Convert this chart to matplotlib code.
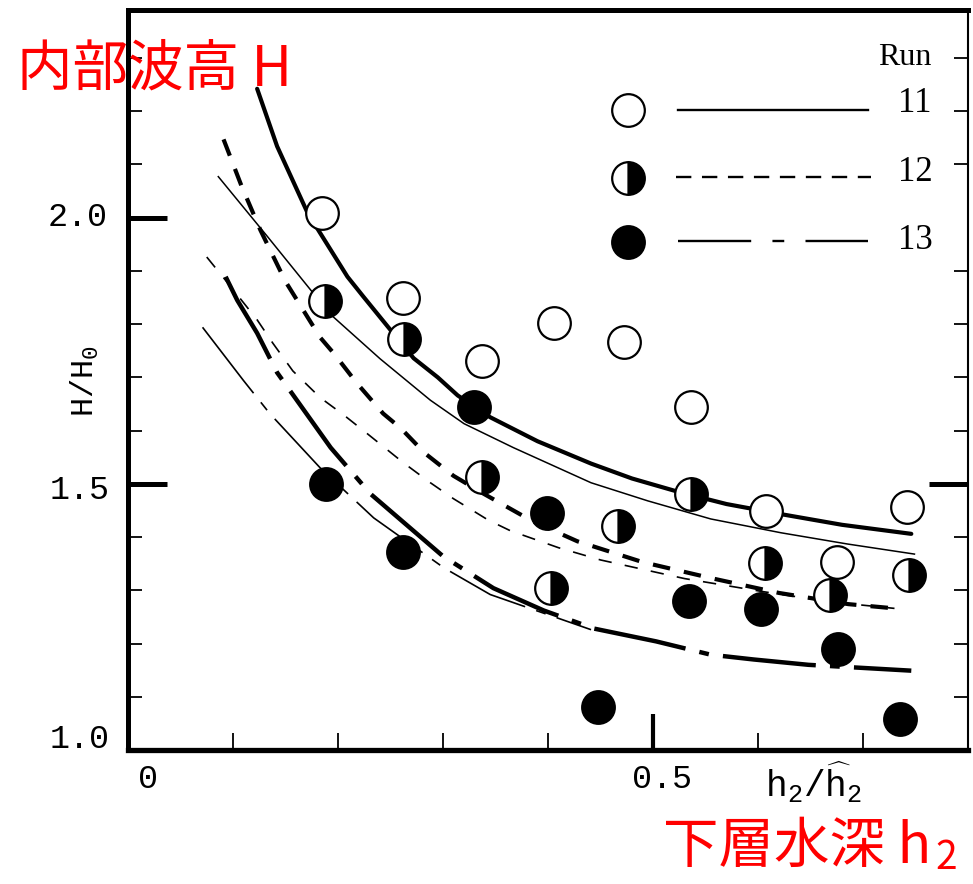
import matplotlib
matplotlib.use("Agg")
import matplotlib.pyplot as plt
from matplotlib.ticker import MultipleLocator

plt.rcParams['mathtext.fontset'] = 'custom'
plt.rcParams['mathtext.rm'] = 'Liberation Mono'
plt.rcParams['mathtext.it'] = 'Liberation Mono'

# 測定値 (h2/h2^, H/H0)
run11_x = [0.185, 0.262, 0.337, 0.406, 0.472, 0.536, 0.608, 0.675, 0.742]
run11_y = [2.009, 1.849, 1.730, 1.802, 1.766, 1.645, 1.449, 1.353, 1.457]
run12_x = [0.188, 0.263, 0.337, 0.403, 0.467, 0.536, 0.607, 0.669, 0.744]
run12_y = [1.843, 1.772, 1.513, 1.304, 1.421, 1.481, 1.351, 1.292, 1.328]
run13_x = [0.189, 0.262, 0.330, 0.399, 0.448, 0.534, 0.603, 0.676, 0.735]
run13_y = [1.500, 1.372, 1.645, 1.445, 1.081, 1.279, 1.264, 1.189, 1.058]

# 計算曲線
curve11a_x = [0.123, 0.142, 0.171, 0.209, 0.224, 0.250, 0.272, 0.295, 0.314, 0.345, 0.39, 0.441,
              0.48, 0.524, 0.57, 0.622, 0.68, 0.746]
curve11a_y = [2.242, 2.134, 2.009, 1.889, 1.852, 1.789, 1.736, 1.700, 1.666, 1.625, 1.58, 1.538,
              1.51, 1.485, 1.462, 1.443, 1.423, 1.406]
curve11b_x = [0.086, 0.133, 0.174, 0.193, 0.240, 0.288, 0.320, 0.367, 0.441, 0.495, 0.555, 0.622,
              0.685, 0.749]
curve11b_y = [2.077, 1.964, 1.864, 1.818, 1.735, 1.657, 1.613, 1.568, 1.502, 1.468, 1.434, 1.408,
              1.387, 1.368]
curve12a_x = [0.091, 0.108, 0.126, 0.15, 0.183, 0.196, 0.218, 0.243, 0.260, 0.283, 0.310, 0.339,
              0.385, 0.428, 0.49, 0.555, 0.62, 0.686, 0.730]
curve12a_y = [2.147, 2.06, 1.977, 1.88, 1.775, 1.745, 1.689, 1.632, 1.604, 1.557, 1.515, 1.481,
              1.43, 1.392, 1.353, 1.323, 1.295, 1.274, 1.266]
curve12b_x = [0.075, 0.10, 0.123, 0.138, 0.157, 0.183, 0.205, 0.228, 0.262, 0.288, 0.31, 0.343,
              0.364, 0.41, 0.45, 0.53, 0.603, 0.67, 0.730]
curve12b_y = [1.926, 1.865, 1.808, 1.764, 1.712, 1.662, 1.630, 1.594, 1.540, 1.502, 1.472, 1.432,
              1.412, 1.38, 1.357, 1.322, 1.298, 1.278, 1.266]
curve13a_x = [0.093, 0.104, 0.123, 0.142, 0.193, 0.231, 0.300, 0.348, 0.396, 0.444, 0.503, 0.555,
              0.596, 0.648, 0.746]
curve13a_y = [1.889, 1.845, 1.783, 1.709, 1.568, 1.481, 1.364, 1.304, 1.262, 1.228, 1.204, 1.179,
              1.170, 1.160, 1.149]
curve13b_x = [0.071, 0.110, 0.135, 0.183, 0.234, 0.301, 0.345, 0.441]
curve13b_y = [1.794, 1.694, 1.632, 1.530, 1.436, 1.342, 1.292, 1.226]

run_labels = ['11', '12', '13']

fig = plt.figure(figsize=(9.73, 8.84), dpi=100)
ax = fig.add_axes([128 / 973, 134 / 884, 840 / 973, 740 / 884])
ax.set_xlim(0, 0.80)
ax.set_ylim(1.0, 2.39)

ax.plot(curve11a_x, curve11a_y, color='black', lw=3.0, solid_capstyle='round', zorder=2)
ax.plot(curve11b_x, curve11b_y, color='black', lw=1.1, zorder=2)
ax.plot(curve12a_x, curve12a_y, color='black', lw=3.0, linestyle=(0, (4.2, 3.4)), zorder=2)
ax.plot(curve12b_x, curve12b_y, color='black', lw=1.2, linestyle=(0, (8, 8)), zorder=2)
ax.plot(curve13a_x, curve13a_y, color='black', lw=3.2, linestyle=(0, (21, 3.2, 2.2, 3.2)), zorder=2)
ax.plot(curve13b_x, curve13b_y, color='black', lw=1.2, linestyle=(0, (50, 7, 6, 7)), zorder=2)

ms = 23.5
ax.plot(run11_x, run11_y, 'o', ms=ms, mfc='white', mec='black', mew=1.6, zorder=3)
ax.plot(run12_x, run12_y, 'o', ms=ms, fillstyle='right', mfc='black', mfcalt='white',
        mec='black', mew=1.6, zorder=3)
ax.plot(run13_x, run13_y, 'o', ms=ms, mfc='black', mec='black', mew=1.6, zorder=3)

# 凡例
tr = ax.transAxes
leg_y = [0.865, 0.773, 0.686]
ax.plot([0.595], [leg_y[0]], 'o', ms=ms, mfc='white', mec='black', mew=1.6, transform=tr)
ax.plot([0.595], [leg_y[1]], 'o', ms=ms, fillstyle='right', mfc='black', mfcalt='white',
        mec='black', mew=1.6, transform=tr)
ax.plot([0.595], [leg_y[2]], 'o', ms=ms, mfc='black', mec='black', mew=1.6, transform=tr)
ax.plot([0.655, 0.881], [leg_y[0], leg_y[0]], color='black', lw=1.7, transform=tr)
ax.plot([0.652, 0.884], [0.775, 0.775], color='black', lw=1.7, linestyle=(0, (6.5, 4.5)), transform=tr)
ax.plot([0.655, 0.881], [0.688, 0.688], color='black', lw=1.7, linestyle=(0, (31, 9, 5, 9)), transform=tr)
ax.text(0.925, 0.936, 'Run', transform=tr, ha='center', va='center',
        fontsize=23, family='Liberation Serif')
for lab, y in zip(run_labels, [0.874, 0.781, 0.689]):
    ax.text(0.937, y, lab, transform=tr, ha='center', va='center',
            fontsize=25, family='Liberation Serif')

# 軸
for side, lw in [('left', 3.6), ('bottom', 3.8), ('top', 3.6), ('right', 1.5)]:
    ax.spines[side].set_linewidth(lw)
ax.xaxis.set_ticks_position('bottom')
ax.set_xticks([0.5])
ax.xaxis.set_minor_locator(MultipleLocator(0.1))
ax.set_yticks([1.0, 1.5, 2.0])
ax.yaxis.set_minor_locator(MultipleLocator(0.1))
ax.yaxis.set_ticks_position('both')
ax.tick_params(axis='x', which='major', direction='in', length=26, width=3.0, labelbottom=False)
ax.tick_params(axis='x', which='minor', direction='in', length=12, width=1.3)
ax.tick_params(axis='y', which='major', direction='in', length=28, width=3.6,
               labelleft=False, labelright=False)
ax.tick_params(axis='y', which='minor', direction='in', length=10, width=1.3)
# 右側の 2.0 には太い目盛りがない
ax.yaxis.get_major_ticks()[2].tick2line.set_visible(False)

mono = dict(fontsize=24, family='Liberation Mono', ha='center', va='center',
            textcoords='offset pixels', annotation_clip=False)
ax.annotate('2.0', xy=(0, 2.0), xytext=(-50, 0), **mono)
ax.annotate('1.5', xy=(0, 1.5), xytext=(-48, -7), **mono)
ax.annotate('1.0', xy=(0, 1.0), xytext=(-48, 11), **mono)
ax.annotate('0', xy=(0, 1.0), xytext=(20, -30), **mono)
ax.annotate('0.5', xy=(0.5, 1.0), xytext=(9, -30), **mono)
ax.annotate(r'$\mathrm{h_2/\widehat{h}_2}$', xy=(0.653, 1.0), xytext=(0, -32),
            **{**mono, 'fontsize': 26})
ax.annotate(r'$\mathrm{H/H_0}$', xy=(0, 1.694), xytext=(-43, 0), rotation=90,
            **{**mono, 'fontsize': 23})

cjk = ['Noto Sans CJK JP', 'DejaVu Sans']
fig.text(17 / 973, 1 - 70 / 884, '内部波高 H', color='red', fontsize=40,
         family=cjk, ha='left', va='center')
t = fig.text(663 / 973, 1 - 847 / 884, '下層水深 h', color='red', fontsize=40,
             family=cjk, ha='left', va='center')
ax.annotate('2', xy=(1, 0), xycoords=t, xytext=(4, -2), textcoords='offset pixels',
            color='red', fontsize=28, family=cjk, ha='left', va='bottom',
            annotation_clip=False)

fig.savefig('out.png', dpi=100)
